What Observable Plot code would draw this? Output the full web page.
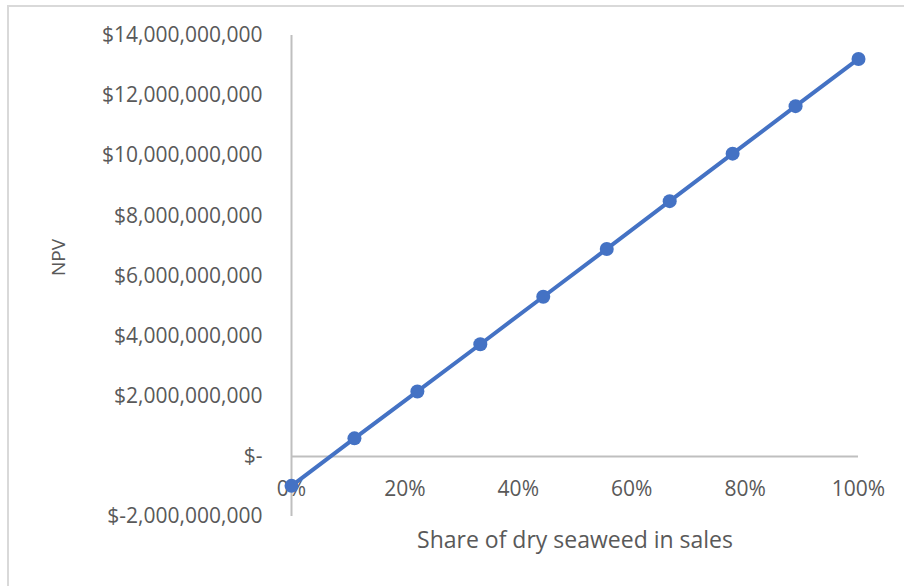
<!DOCTYPE html>
<html>
<head>
<meta charset="utf-8">
<script src="https://cdn.jsdelivr.net/npm/d3@7"></script>
<script src="https://cdn.jsdelivr.net/npm/@observablehq/plot@0.6"></script>
<style>
  html, body { margin: 0; padding: 0; background: #fff; }
  #wrap { position: relative; width: 904px; height: 586px; overflow: hidden; }
  #border { position: absolute; left: 7px; top: 5px; width: 920px; height: 600px;
            border-top: 2px solid #d9d9d9; border-left: 2px solid #d9d9d9; box-sizing: border-box; }
  #chart { position: absolute; left: 0; top: 0; }
</style>
</head>
<body>
<div id="wrap"><div id="border"></div><div id="chart"></div></div>
<script>
const share = [0, 0.111, 0.222, 0.333, 0.444, 0.556, 0.667, 0.778, 0.889, 1.0];
const npv = [-0.98e9, 0.60e9, 2.16e9, 3.73e9, 5.31e9, 6.90e9, 8.49e9, 10.07e9, 11.65e9, 13.22e9];
const yTicks = [-2e9, 0, 2e9, 4e9, 6e9, 8e9, 10e9, 12e9, 14e9];
const xTicks = [0, 0.2, 0.4, 0.6, 0.8, 1.0];
const xTitle = "Share of dry seaweed in sales";
const yTitle = "NPV";

const data = share.map((s, i) => ({share: s, npv: npv[i]}));
const textColor = "#595959";
const font = "Open Sans";
const blue = "#4472C4";
const fmtY = d => d === 0 ? "$-" : ("$" + d3.format(",")(d)).replace("\u2212", "-");

const chart = Plot.plot({
  width: 904,
  height: 586,
  marginLeft: 291,
  marginRight: 46,
  marginTop: 35,
  marginBottom: 70,
  style: {fontFamily: font, fontSize: "21px", color: textColor, background: "transparent"},
  x: {domain: [0, 1]},
  y: {domain: [-2e9, 14e9]},
  marks: [
    Plot.ruleY([0], {stroke: "#bfbfbf", strokeWidth: 2}),
    Plot.ruleX([0], {stroke: "#bfbfbf", strokeWidth: 2, y1: -2e9, y2: 14e9}),
    Plot.axisY({ticks: yTicks, tickFormat: fmtY, tickSize: 0, tickPadding: 29, label: null, fill: textColor, fontSize: 21}),
    Plot.axisX({ticks: xTicks, tickFormat: d3.format(".0%"), tickSize: 0, tickPadding: 0, dy: -35, label: null, fill: textColor, fontSize: 21}),
    Plot.line(data, {x: "share", y: "npv", stroke: blue, strokeWidth: 4}),
    Plot.dot(data, {x: "share", y: "npv", r: 7, fill: blue, stroke: "none"}),
    Plot.text([xTitle], {frameAnchor: "bottom", dy: 24, fill: textColor, fontSize: 23, lineAnchor: "middle"}),
    Plot.text([yTitle], {frameAnchor: "left", dx: -233, rotate: -90, fill: textColor, fontSize: 19, lineAnchor: "middle"})
  ]
});
document.getElementById("chart").appendChild(chart);
</script>
</body>
</html>
